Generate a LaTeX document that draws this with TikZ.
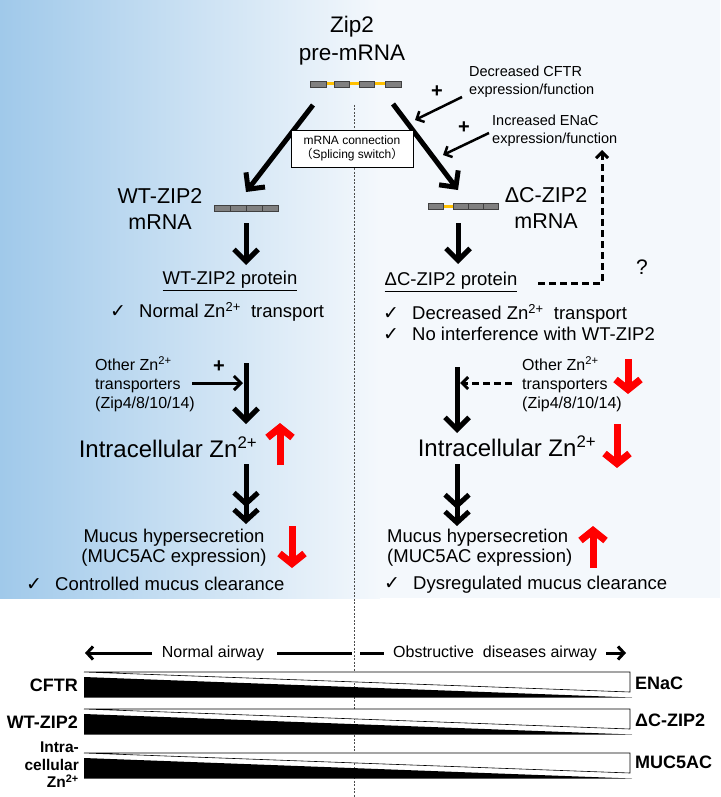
\documentclass[tikz,border=0pt]{standalone}
\usepackage{fontspec}
\setmainfont{Liberation Sans}
\newfontfamily\symf{DejaVu Sans}
\newfontfamily\cjk{Noto Sans CJK SC}
\usetikzlibrary{arrows.meta}
\definecolor{bgblue}{RGB}{160,201,234}
\definecolor{bgpale}{RGB}{244,248,252}
\definecolor{exongray}{RGB}{128,128,128}
\definecolor{introny}{RGB}{255,192,0}
\newcommand{\fsz}[2]{\fontsize{#1}{#2}\selectfont}
\newcommand{\chk}{\makebox[29pt][l]{\symf\fsz{19}{19}✓}}
\newcommand{\zn}{Zn\textsuperscript{2+}}
\tikzset{
    txt/.style={inner sep=0pt},
    plus/.style={txt, font=\bfseries\fsz{20}{20}},
    exon/.style={fill=exongray, draw=black!75, line width=0.5pt},
    intron/.style={introny, line width=3pt},
    bigarrow/.style={line width=5pt, -{Straight Barb[length=12pt,width=24pt]}},
    dblarrow/.style={line width=5pt, -{Straight Barb[length=11pt,width=24pt] Straight Barb[length=11pt,width=24pt]}},
    thinarrow/.style={line width=2.5pt, -{Straight Barb[length=6pt,width=12pt]}},
    dasharrow/.style={line width=3pt, dash pattern=on 7pt off 4pt, -{Straight Barb[length=6pt,width=12pt]}},
    redarrow/.style={red, line width=7pt, -{Straight Barb[length=10pt,width=25pt]}},
    barlabel/.style={txt, font=\bfseries\fsz{18}{18}},
}
\begin{document}
\begin{tikzpicture}[x=1pt,y=-1pt]
    \useasboundingbox (0,0) rectangle (720,797);
    % background
    \shade[left color=bgblue, right color=bgpale] (0,0) rectangle (380,598);
    \fill[bgpale] (380,0) rectangle (720,598);
    \draw[black!70, line width=0.6pt, dash pattern=on 2pt off 1.5pt] (354,105) -- (354,797);

    % pre-mRNA
    \node[txt, font=\fsz{22.5}{28}, align=center] (zip) at (352,41) {Zip2\\pre-mRNA};
    \draw[intron] (310,84) -- (401,84);
    \foreach \a/\b in {310/326,334/349,359/374,385/401}{
        \draw[exon] (\a,81) rectangle (\b,87);
    }
    \coordinate (splitL) at (313,105);
    \coordinate (splitR) at (393,104);
    \coordinate (wttop) at (246,192);
    \coordinate (dctop) at (458,190);
    \draw[bigarrow] (splitL) -- (wttop);
    \draw[bigarrow] (splitR) -- (dctop);
    \node[draw, fill=white, line width=0.6pt, minimum width=122pt, minimum height=37pt, inner sep=0pt,
          align=center, font=\fsz{12}{14.5}] (switch) at (352,148.5) {mRNA connection\\{\cjk（}Splicing switch{\cjk）}};

    % regulators
    \node[txt, anchor=west, align=left, font=\fsz{14.5}{18}] (cftr) at (469,82) {Decreased CFTR\\expression/function};
    \node[txt, anchor=west, align=left, font=\fsz{14.5}{18}] (enac) at (492,130.5) {Increased ENaC\\expression/function};
    \node[plus] (plusA) at (437,92) {+};
    \node[plus] (plusB) at (464,128) {+};
    \coordinate (cftrA) at (462,97);  \coordinate (cftrB) at (415,120);
    \coordinate (enacA) at (489,133); \coordinate (enacB) at (443,155);
    \draw[thinarrow] (cftrA) -- (cftrB);
    \draw[thinarrow] (enacA) -- (enacB);

    % mRNAs
    \node[txt, font=\fsz{21.5}{26}, align=center] (wtmrna) at (160,209) {WT-ZIP2\\mRNA};
    \node[txt, font=\fsz{21.5}{26}, align=center] (dcmrna) at (546,208) {ΔC-ZIP2\\mRNA};
    \foreach \a/\b in {214/230,230/246,246/262,262/278}{
        \draw[exon] (\a,205.5) rectangle (\b,211);
    }
    \draw[intron] (443,206) -- (453,206);
    \foreach \a/\b in {428/443,453/468,468/483,483/498}{
        \draw[exon] (\a,203.5) rectangle (\b,209);
    }

    % proteins
    \coordinate (wtA) at (246,223); \coordinate (wtB) at (246,265);
    \coordinate (dcA) at (458,223); \coordinate (dcB) at (458,264);
    \draw[bigarrow] (wtA) -- (wtB);
    \draw[bigarrow] (dcA) -- (dcB);
    \node[txt, font=\fsz{18.5}{18.5}] (wtprot) at (230,281) {\underline{WT-ZIP2 protein}};
    \node[txt, font=\fsz{18.5}{18.5}] (dcprot) at (451,282) {\underline{ΔC-ZIP2 protein}};
    \node[txt, font=\fsz{21}{21}] (qmark) at (642,267) {?};
    \coordinate (fbA) at (538,283); \coordinate (fbB) at (602,150);
    \draw[dasharrow] (fbA) -| (fbB);

    \node[txt, anchor=west, font=\fsz{18.5}{21}] (wtchk) at (110,312) {\chk Normal \zn\ \ transport};
    \node[txt, anchor=west, align=left, font=\fsz{18.5}{21}] (dcchk) at (383,322.5) {\chk Decreased \zn\ \ transport\\
        \chk No interference with WT-ZIP2};

    % other transporters
    \node[txt, anchor=west, align=left, font=\fsz{16}{19}] (othL) at (95,384) {Other \zn\\transporters\\(Zip4/8/10/14)};
    \node[txt, anchor=west, align=left, font=\fsz{16}{19}] (othR) at (522,384) {Other \zn\\transporters\\(Zip4/8/10/14)};
    \node[plus] (plusC) at (219,367) {+};
    \coordinate (inL) at (192,383); \coordinate (inLb) at (243,383);
    \coordinate (inR) at (512,383); \coordinate (inRb) at (460,383);
    \draw[line width=3pt, -{Straight Barb[length=7pt,width=14pt]}] (inL) -- (inLb);
    \draw[dasharrow] (inR) -- (inRb);
    \coordinate (icLa) at (246,363); \coordinate (icLb) at (246,424);
    \coordinate (icRa) at (457,367); \coordinate (icRb) at (457,433);
    \draw[bigarrow] (icLa) -- (icLb);
    \draw[bigarrow] (icRa) -- (icRb);

    % intracellular zinc
    \node[txt, font=\fsz{24}{24}] (icL) at (168,447) {Intracellular \zn};
    \node[txt, font=\fsz{24}{24}] (icR) at (507,446) {Intracellular \zn};
    \coordinate (mucLa) at (246,464); \coordinate (mucLb) at (246,524);
    \coordinate (mucRa) at (457,464); \coordinate (mucRb) at (457,526);
    \draw[dblarrow] (mucLa) -- (mucLb);
    \draw[dblarrow] (mucRa) -- (mucRb);

    % mucus
    \node[txt, font=\fsz{18.5}{20}, align=center] (mucL) at (174,548) {Mucus hypersecretion\\(MUC5AC expression)};
    \node[txt, anchor=west, font=\fsz{18.5}{20}, align=left] (mucR) at (387,548) {Mucus hypersecretion\\(MUC5AC expression)};
    \node[txt, anchor=west, font=\fsz{18.5}{21}] (clrL) at (26,584) {\chk Controlled mucus clearance};
    \node[txt, anchor=west, font=\fsz{18.5}{21}] (clrR) at (384,585) {\chk Dysregulated mucus clearance};

    % red trends
    \draw[redarrow] (280,465) -- (280,423);
    \draw[redarrow] (628,359) -- (628,394);
    \draw[redarrow] (617,424) -- (617,468);
    \draw[redarrow] (292,526) -- (292,568);
    \draw[redarrow] (593,568) -- (593,526);

    % airway axis
    \node[txt, font=\fsz{16}{16}] (normal) at (213,653) {Normal airway};
    \node[txt, font=\fsz{16}{16}] (obst) at (495,653) {Obstructive\ \ diseases airway};
    \coordinate (axL) at (85,653); \coordinate (axLt) at (152,653);
    \coordinate (axR) at (626,653); \coordinate (axRt) at (606,653);
    \draw[line width=3pt, -{Straight Barb[length=6pt,width=13pt]}] (axLt) -- (axL);
    \draw[line width=3pt] (277,653) -- (352,653);
    \draw[line width=3pt] (360,653) -- (384,653);
    \draw[line width=3pt, -{Straight Barb[length=6pt,width=13pt]}] (axRt) -- (axR);

    % gradient bars
    \foreach \t in {672,709,753}{
        \fill[black] (84,\t+5) -- (632,\t+25.5) -- (84,\t+25.5) -- cycle;
        \draw[fill=white, line width=0.6pt] (84,\t) -- (630,\t) -- (630,\t+20) -- cycle;
    }
    \node[barlabel, anchor=east] (lcftr) at (78,685) {CFTR};
    \node[barlabel, anchor=east] (lwt) at (78,722) {WT-ZIP2};
    \node[barlabel, anchor=east, align=right, font=\bfseries\fsz{15.5}{17.5}] (lzn) at (79,765) {Intra-\\cellular\\\zn};
    \node[barlabel, anchor=west] (renac) at (635,683) {ENaC};
    \node[barlabel, anchor=west] (rdc) at (635,720) {ΔC-ZIP2};
    \node[barlabel, anchor=west] (rmuc) at (635,762) {MUC5AC};
\end{tikzpicture}
\end{document}
